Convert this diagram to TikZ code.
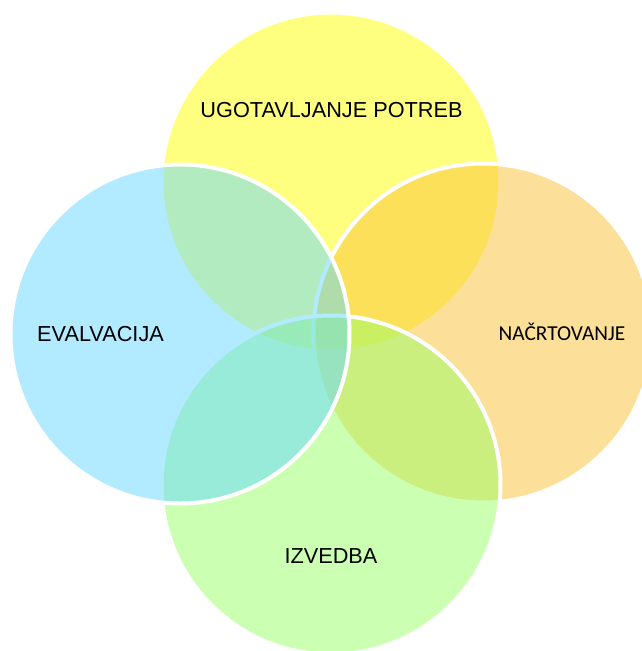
\documentclass[tikz,border=0pt]{standalone}
\usepackage{fontspec}
\setmainfont{Liberation Sans}
\newfontfamily\calibrilike{Carlito}
\definecolor{cyellow}{HTML}{FFFF00}
\definecolor{corange}{HTML}{FBC236}
\definecolor{cgreen}{HTML}{99FF66}
\definecolor{cblue}{HTML}{66D9FF}
\tikzset{
  venn/.style={fill=#1, fill opacity=0.5, draw=white, draw opacity=1, line width=4pt},
  lbl/.style={anchor=base, inner sep=0pt, font=\fontsize{21.7}{26}\selectfont, text=black},
  lblc/.style={anchor=base, inner sep=0pt, font=\calibrilike\fontsize{21.3}{25}\selectfont, text=black}
}
\begin{document}
\begin{tikzpicture}[x=1pt,y=-1pt]
\clip (0,0) rectangle (642,651);
\useasboundingbox (0,0) rectangle (642,651);
\fill[white] (0,0) rectangle (642,651);
\path[venn=cyellow] (331,182) circle[radius=169.5];
\path[venn=corange] (483,333) circle[radius=169.5];
\path[venn=cgreen] (331,485) circle[radius=169.5];
\path[venn=cblue] (180,334) circle[radius=169.5];
\node[lbl] (t1) at (331.5,117.7) {UGOTAVLJANJE POTREB};
\node[lblc] (t2) at (562,340.7) {NAČRTOVANJE};
\node[lbl] (t3) at (331,563.3) {IZVEDBA};
\node[lbl] (t4) at (100.5,341) {EVALVACIJA};
\end{tikzpicture}
\end{document}
